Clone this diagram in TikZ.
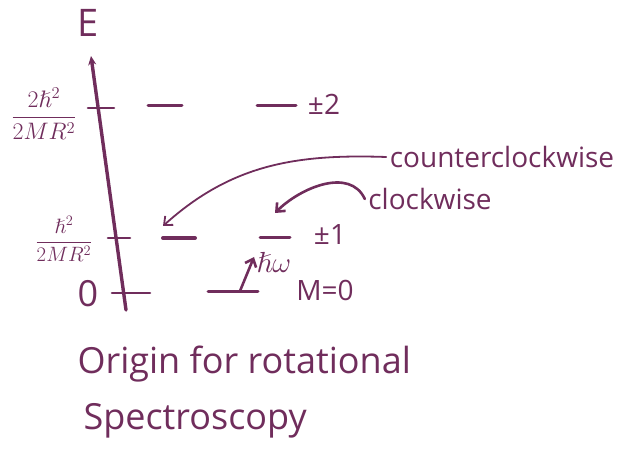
\documentclass[tikz,border=0pt]{standalone}
\usepackage{amsmath,amssymb}
\usepackage{fontspec}
\setmainfont{Open Sans}
\usetikzlibrary{calc,arrows.meta}

\definecolor{ink}{RGB}{112,45,92}

\begin{document}
\begin{tikzpicture}[x=1pt,y=1pt,color=ink,line cap=round,
  statebar/.style={line width=3pt},
  tick/.style={line width=2.6pt},
  hand/.style={font=\fontsize{28}{30}\selectfont},
  bighand/.style={font=\fontsize{36}{40}\selectfont, anchor=base west},
  mathlbl/.style={font=\huge, inner sep=1pt},
  swirl/.style={-{Straight Barb[length=7pt,width=12pt]}}]

% --- Geometry settings ---
\def\yTwo{344}    % height of the |M|=2 levels
\def\yOne{212}    % height of the |M|=1 levels
\def\yZero{159}   % height of the M=0 level

\useasboundingbox (0,0) rectangle (631,450);

% --- Energy axis (slightly leaning, as sketched) ---
\coordinate (axisBot) at (126,140);
\coordinate (axisTop) at (91,394);
\draw[line width=3.4pt, -{Stealth[length=9pt,width=8pt]}] (axisBot) -- (axisTop);
\node[font=\fontsize{38}{42}\selectfont] (elabel) at (88,427) {E};

% --- Ticks and their values ---
\draw[tick] (88,342) -- (114,342);
\draw[tick] (108,212) -- (130,212);
\draw[tick] (112,157) -- (150,157);
\node[mathlbl, scale=1.15] (etwo) at (44,336) {$\dfrac{2\hslash^2}{2MR^2}$};
\node[mathlbl] (eone) at (64,211) {$\dfrac{\hslash^2}{2MR^2}$};
\node[font=\fontsize{36}{40}\selectfont] (ezero) at (88,156) {0};

% --- Energy levels ---
\draw[statebar] (148,\yTwo) -- (182,\yTwo);
\draw[statebar] (257,\yTwo) -- (296,\yTwo);
\draw[statebar, line width=4pt] (163,\yOne) -- (195,\yOne);
\draw[statebar] (260,\yOne) -- (290,\yOne);
\draw[statebar] (208,\yZero) -- (258,\yZero);

\node[hand] (mtwo) at (324,346) {±2};
\node[hand] (mone) at (330,215) {±1};
\node[hand] (mzero) at (325,160) {M=0};

% --- Photon absorption ---
\coordinate (hwBot) at (240,\yZero);
\coordinate (hwTop) at (254,193);
\draw[line width=2.6pt, swirl] (hwBot) -- (hwTop);
\node[mathlbl, scale=1.4, anchor=west] (hw) at (255,188) {$\hslash\omega$};

% --- Sense of rotation ---
\coordinate (ccwEnd) at (163,224);
\coordinate (cwEnd) at (275,237);
\node[hand] (ccw) at (502,293) {counterclockwise};
\node[hand] (cw) at (430,251) {clockwise};
\draw[line width=1.8pt, swirl] (ccw.west) to[out=178,in=42] (ccwEnd);
\draw[line width=2.6pt, swirl] (cw.west) to[out=115,in=45] (cwEnd);

% --- Caption ---
\node[bighand] (capOne) at (74,77) {Origin for rotational};
\node[bighand] (capTwo) at (80,21) {Spectroscopy};

\end{tikzpicture}
\end{document}
